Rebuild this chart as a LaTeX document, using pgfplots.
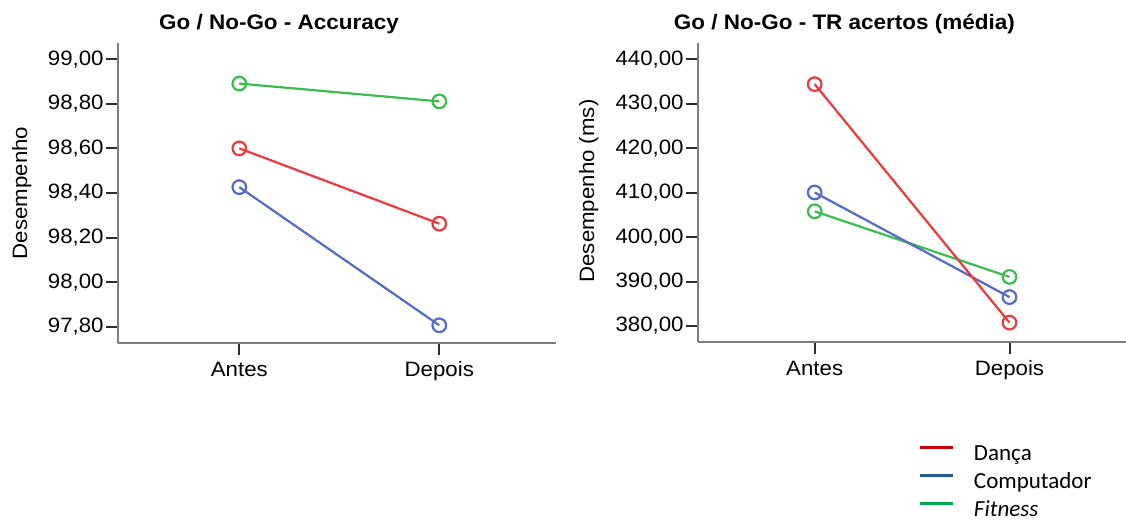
\documentclass[border=0pt]{standalone}
\usepackage{fontspec}
\setmainfont{Liberation Sans}[FakeStretch=1.07]
\newfontfamily\legfont{Carlito}
\usepackage{pgfplots}
\pgfplotsset{compat=1.18}

\definecolor{cred}{RGB}{240,55,60}
\definecolor{cblue}{RGB}{85,105,200}
\definecolor{cgreen}{RGB}{55,190,75}
\definecolor{lred}{RGB}{200,0,0}
\definecolor{lblue}{RGB}{31,90,150}
\definecolor{lgreen}{RGB}{0,168,80}
\definecolor{axgray}{RGB}{125,125,125}
\definecolor{tickgray}{RGB}{45,45,45}

\pgfplotsset{
  spss/.style={
    scale only axis,
    axis x line*=bottom, axis y line*=left,
    axis line style={axgray, line width=1.1pt, -},
    tick align=outside,
    major tick length=6pt,
    tick style={tickgray, line width=1pt},
    xtick={1,2}, xticklabels={Antes,Depois},
    ticklabel style={font=\fontsize{10.4}{12}\selectfont},
    yticklabel style={inner xsep=1pt, /pgf/number format/.cd, fixed, fixed zerofill, precision=2, use comma, 1000 sep={}},
    /pgf/number format/assume math mode=true,
    label style={font=\fontsize{10.4}{12}\selectfont},
    every axis title/.style={font=\bfseries\fontsize{10.5}{12}\selectfont, anchor=base},
    clip=false,
  },
  ln/.style={#1, line width=1.1pt, mark=o, mark size=3.4pt, mark options={line width=1.1pt, solid}},
}

\begin{document}
\begin{tikzpicture}
\path[use as bounding box] (0,0) rectangle (563pt,261pt);

% Left: Accuracy
\begin{axis}[spss,
  at={(59pt,89.65pt)}, anchor=south west,
  width=219pt, height=149.85pt,
  xmin=0.3935, xmax=2.5835,
  ymin=97.728, ymax=99.073,
  ytick={97.8,98.0,98.2,98.4,98.6,98.8,99.0},
  title={Go / No-Go - Accuracy},
  title style={at={(axis description cs:0.3676,1.0434)}},
  ylabel={Desempenho},
  ylabel style={at={(axis description cs:-0.220,0.4995)}, anchor=center, rotate=0},
]
\addplot[ln=cblue] coordinates {(1,98.426) (2,97.806)};
\addplot[ln=cgreen] coordinates {(1,98.891) (2,98.811)};
\addplot[ln=cred] coordinates {(1,98.600) (2,98.262)};
\end{axis}

% Right: TR acertos
\begin{axis}[spss,
  at={(349pt,90.15pt)}, anchor=south west,
  width=214pt, height=149.35pt,
  xmin=0.401, xmax=2.598,
  ymin=376.47, ymax=443.67,
  ytick={380,390,400,410,420,430,440},
  title={Go / No-Go - TR acertos (média)},
  title style={at={(axis description cs:0.342,1.0435)}},
  ylabel={Desempenho (ms)},
  ylabel style={at={(axis description cs:-0.255,0.5045)}, anchor=center, rotate=0},
  legend style={at={(axis description cs:0.514,-0.473)}, anchor=west,
    draw=none, fill=none, inner sep=0pt, row sep=0pt,
    font=\legfont\fontsize{11.5}{13}\selectfont,
    nodes={inner xsep=0pt, inner ysep=0pt, text height=10pt, text depth=4pt},
    /tikz/every odd column/.style={column sep=9.8pt}},
  legend cell align=left,
  legend image code/.code={\draw[#1, line width=1.5pt] (-0.5pt,3.6pt) -- (16pt,3.6pt);},
]
\addplot[ln=cgreen, forget plot] coordinates {(1,405.8) (2,391.04)};
\addplot[ln=cblue, forget plot] coordinates {(1,410.04) (2,386.5)};
\addplot[ln=cred, forget plot] coordinates {(1,434.41) (2,380.75)};
\addlegendimage{lred}
\addlegendentry{Dança}
\addlegendimage{lblue}
\addlegendentry{Computador}
\addlegendimage{lgreen}
\addlegendentry{\itshape Fitness}
\end{axis}
\end{tikzpicture}
\end{document}
